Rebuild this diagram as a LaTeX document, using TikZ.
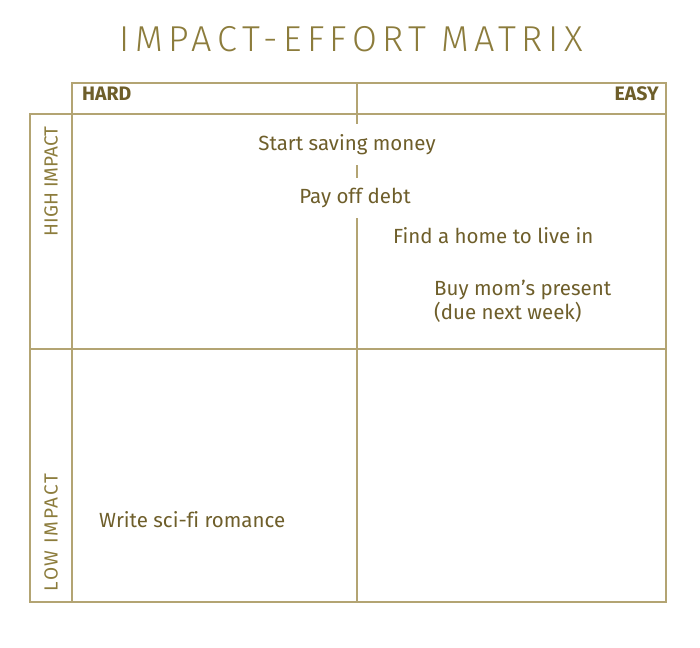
\documentclass[tikz,border=0pt]{standalone}
\usepackage{fontspec}
\setmainfont{Fira Sans}[Ligatures=NoCommon]
\newfontfamily\titlefont[LetterSpace=15]{Fira Sans Light}
\newfontfamily\widefont[LetterSpace=9]{Fira Sans}
\definecolor{grid}{HTML}{B3A473}
\definecolor{ink}{HTML}{6E5E2A}
\definecolor{ttl}{HTML}{8C7C3C}
\begin{document}
\begin{tikzpicture}[x=1pt,y=-1pt,
  gridline/.style={draw=grid,line width=1.3pt},
  item/.style={text=ink,font=\fontsize{20.5}{24}\selectfont,inner sep=0pt},
  cover/.style={item,fill=white,minimum height=40pt},
  head/.style={text=ink,font=\fontsize{19.5}{22}\selectfont\bfseries,inner sep=0pt},
  side/.style={text=ttl,font=\fontsize{19}{22}\selectfont,inner sep=0pt,rotate=90}]
\useasboundingbox (0,0) rectangle (700,647);
% title
\node[text=ttl,font=\titlefont\fontsize{36}{40}\selectfont,inner sep=0pt] (title) at (351,39) {IMPACT-EFFORT MATRIX};
% grid
\coordinate (h1) at (72,83); \coordinate (h2) at (666,114);
\draw[gridline] (h1) rectangle (h2);
\draw[gridline] (357,83) -- (357,114);
\draw[gridline] (30,114) rectangle (666,602);
\draw[gridline] (72,114) -- (72,602);
\draw[gridline] (30,349) -- (666,349);
\draw[gridline] (357,114) -- (357,602);
% headers
\node[head,anchor=west] (hard) at (82,94) {HARD};
\node[head,anchor=east] (easy) at (659,94) {EASY};
\node[side] (high) at (51,181.5) {HIGH IMPACT};
\node[side,font=\widefont\fontsize{19}{22}\selectfont] (low) at (51,532.5) {LOW IMPACT};
% items
\node[cover] (save) at (347,144.5) {Start saving money};
\node[cover] (debt) at (355,198) {Pay off debt};
\node[item,anchor=west] (home) at (393,236) {Find a home to live in};
\node[item,anchor=west,align=left] (mom) at (434,301) {Buy mom’s present\\(due next week)};
\node[item,anchor=west] (scifi) at (99,520) {Write sci-fi romance};
\end{tikzpicture}
\end{document}
